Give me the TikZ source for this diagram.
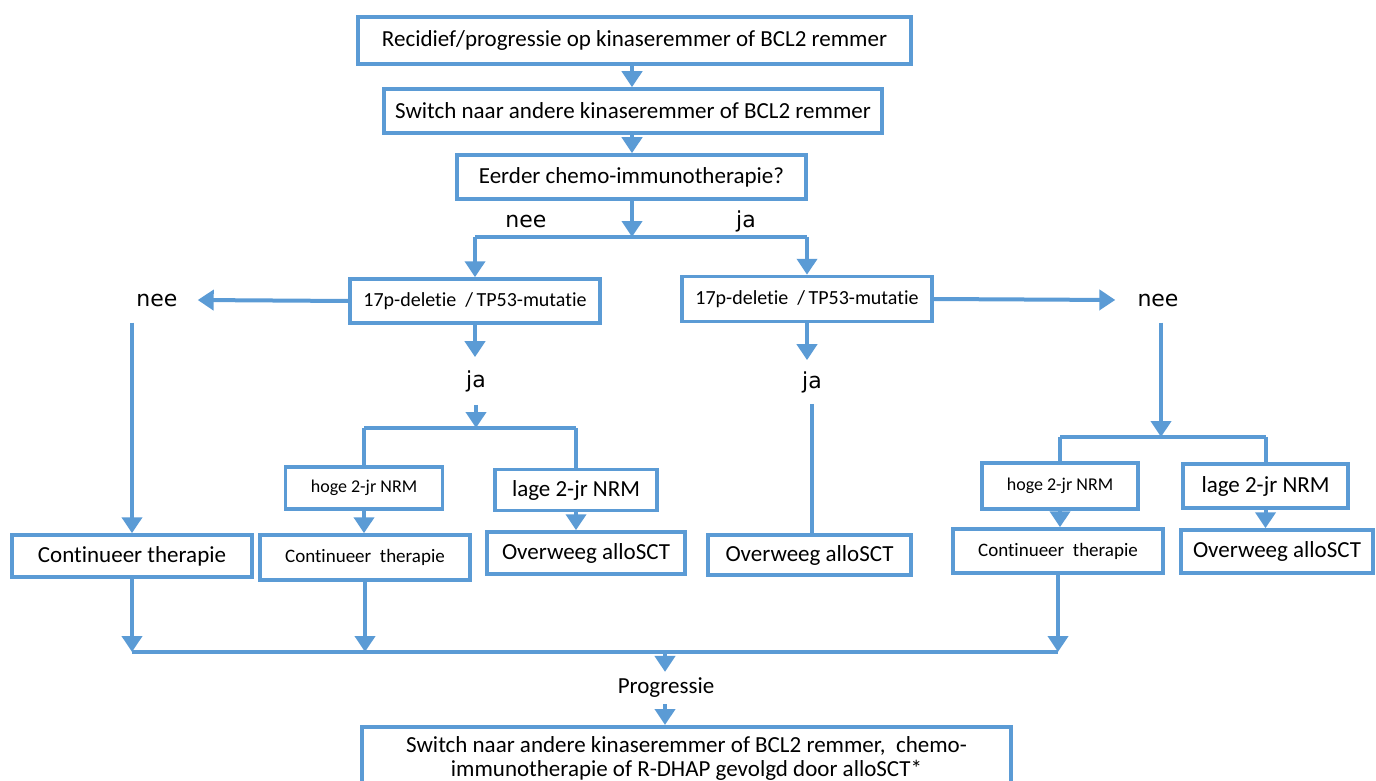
\documentclass[tikz,border=0pt]{standalone}
\usepackage{fontspec}
\setmainfont{Carlito}[Ligatures=NoCommon]
\newfontfamily\labelfont{DejaVu Sans}
\usetikzlibrary{arrows.meta}
\definecolor{flowblue}{HTML}{5B9BD5}
\begin{document}
\begin{tikzpicture}[x=1pt,y=-1pt,
  box/.style={draw=flowblue, line width=3.5pt, fill=white, inner sep=0pt, align=center, text=black},
  lbl/.style={inner sep=0pt, text=black},
  ln/.style={draw=flowblue, line width=4pt},
  arr/.style={ln, -{Triangle[width=20pt,length=16pt]}},
  big/.style={font=\fontsize{23}{24}\selectfont},
  mid/.style={font=\fontsize{19}{22}\selectfont},
  small/.style={font=\fontsize{18}{20}\selectfont},
  yesno/.style={font=\labelfont\fontsize{22}{26}\selectfont}]
\useasboundingbox (0,0) rectangle (1376,781);
\clip (0,0) rectangle (1376,781);

% main column
\node[box, big, minimum width=553, minimum height=47] (b1) at (634.5,40.5) {Recidief/progressie op kinaseremmer of BCL2 remmer};
\node[box, big, minimum width=498, minimum height=44] (b2) at (633,111) {Switch naar andere kinaseremmer of BCL2 remmer};
\node[box, big, minimum width=349, minimum height=44] (b3) at (631.5,177) {Eerder chemo-immunotherapie?};
\coordinate (j1) at (632,237);
\node[lbl, yesno] (neeTop) at (526,221) {nee};
\node[lbl, yesno] (jaTop) at (746,221) {ja};

% 17p branches
\node[box, font=\fontsize{20}{22}\selectfont, minimum width=250, minimum height=44] (pL) at (475,301) {17p-deletie \ /\,TP53-mutatie};
\node[box, font=\fontsize{20}{22}\selectfont, minimum width=250, minimum height=45] (pR) at (807,299) {17p-deletie \ /\,TP53-mutatie};
\node[lbl, yesno, inner xsep=20pt, inner ysep=16pt] (neeL) at (157,300) {nee};
\node[lbl, yesno, inner xsep=22pt, inner ysep=16pt] (neeR) at (1158,300) {nee};
\node[lbl, yesno, inner ysep=13pt] (jaL) at (476,381) {ja};
\node[lbl, yesno, inner ysep=11pt] (jaR) at (812,382) {ja};
\coordinate (j2) at (476,428);
\coordinate (j3) at (1161,437);

% outcome boxes
\node[box, big, minimum width=240, minimum height=42] (cL) at (132,556) {Continueer therapie};
\node[box, small, minimum width=157, minimum height=42] (hL) at (364,488) {hoge 2-jr NRM};
\node[box, big, minimum width=162, minimum height=41] (lL) at (576,490) {lage 2-jr NRM};
\node[box, mid, minimum width=210, minimum height=45] (cM) at (365,557.5) {Continueer \ therapie};
\node[box, big, minimum width=198, minimum height=42] (oL) at (586,553) {Overweeg alloSCT};
\node[box, big, minimum width=203, minimum height=40] (oM) at (809.5,555) {Overweeg alloSCT};
\node[box, small, minimum width=156, minimum height=46] (hR) at (1060,486) {hoge 2-jr NRM};
\node[box, big, minimum width=165, minimum height=44] (lR) at (1265.5,486) {lage 2-jr NRM};
\node[box, mid, minimum width=210, minimum height=44] (cR) at (1058,551) {Continueer \ therapie};
\node[box, big, minimum width=192, minimum height=43] (oR) at (1277,551.5) {Overweeg alloSCT};

% progression
\coordinate (j4) at (665,652);
\node[lbl, big, inner ysep=6pt] (prog) at (666,688) {Progressie};
\node[box, big, minimum width=649, minimum height=64, anchor=north] (bot) at (686.5,725) {Switch naar andere kinaseremmer of BCL2 remmer, \ chemo-\\immunotherapie of R-DHAP gevolgd door alloSCT*};

% connectors
\draw[arr] (b1.south -| j1) -- (b2.north -| j1);
\draw[arr] (b2.south -| j1) -- (b3.north -| j1);
\draw[arr] (b3.south -| j1) -- (j1);
\draw[ln] (pL.north |- j1) -- (pR.north |- j1);
\draw[arr] (pL.north |- j1) -- (pL.north);
\draw[arr] (pR.north |- j1) -- (pR.north);

\draw[arr] (pL.west) -- (neeL.east);
\draw[arr] (cL.north |- neeL.south) -- (cL.north);
\draw[arr] (pL.south) -- (pL.south |- jaL.north);
\draw[arr] (jaL.south) -- (j2);
\draw[ln] (hL.north |- j2) -- (lL.north |- j2);
\draw[ln] (hL.north |- j2) -- (hL.north);
\draw[ln] (lL.north |- j2) -- (lL.north);
\draw[arr] (hL.south) -- (hL.south |- cM.north);
\draw[arr] (lL.south) -- (lL.south |- oL.north);

\draw[arr] (pR.east) -- (neeR.west);
\draw[arr] (pR.south) -- (pR.south |- jaR.north);
\draw[ln] (jaR.south) -- (jaR.south |- oM.north);
\draw[arr] (j3 |- neeR.south) -- (j3);
\draw[ln] (hR.north |- j3) -- (lR.north |- j3);
\draw[ln] (hR.north |- j3) -- (hR.north);
\draw[ln] (lR.north |- j3) -- (lR.north);
\draw[arr] (hR.south) -- (hR.south |- cR.north);
\draw[arr] (lR.south) -- (lR.south |- oR.north);

\draw[arr] (cL.south) -- (cL.south |- j4);
\draw[arr] (cM.south) -- (cM.south |- j4);
\draw[arr] (cR.south) -- (cR.south |- j4);
\draw[ln] (cL.south |- j4) -- (cR.south |- j4);
\draw[arr] (j4) -- (j4 |- prog.north);
\draw[arr] (j4 |- prog.south) -- (j4 |- bot.north);
\end{tikzpicture}
\end{document}
